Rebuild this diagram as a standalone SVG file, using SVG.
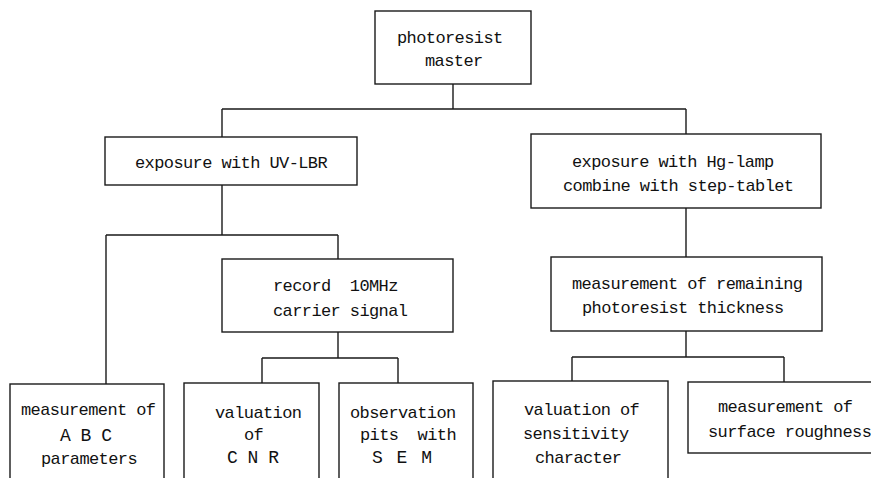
<svg xmlns="http://www.w3.org/2000/svg" width="871" height="478" viewBox="0 0 871 478">
<style>
.box{fill:#fff;stroke:#1a1a1a;stroke-width:1.4}
.ln{fill:none;stroke:#1a1a1a;stroke-width:1.4}
text{font-family:"Liberation Mono","DejaVu Sans Mono",monospace;font-size:17px;letter-spacing:-0.6px;fill:#111}
text.cap{font-size:18px;letter-spacing:-0.5px}
</style>
<rect width="871" height="478" fill="#fff"/>
<g id="connectors">
<path class="ln" d="M453 84V109M222 109H686M222 109V137M686 109V134M222 185V235M106 235H338M106 235V384M338 235V259M338 332V358M262 358H398M262 358V383M398 358V383M686 208V257M686 331V357M572 357H784M572 357V381M784 357V382"/>
</g>
<g id="photoresist-master">
<rect class="box" x="375" y="11" width="156" height="73"/>
<text x="397" y="43">photoresist</text>
<text x="425" y="66">master</text>
</g>
<g id="uv-lbr">
<rect class="box" x="105" y="137" width="252" height="48"/>
<text x="135" y="168">exposure with UV-LBR</text>
</g>
<g id="hg-lamp">
<rect class="box" x="531" y="134" width="290" height="74"/>
<text x="572" y="167">exposure with Hg-lamp</text>
<text x="563" y="191">combine with step-tablet</text>
</g>
<g id="record">
<rect class="box" x="222" y="259" width="231" height="73"/>
<text x="273" y="291" xml:space="preserve">record  10MHz</text>
<text x="273" y="316">carrier signal</text>
</g>
<g id="remaining">
<rect class="box" x="551" y="257" width="271" height="74"/>
<text x="572" y="289">measurement of remaining</text>
<text x="582" y="313">photoresist thickness</text>
</g>
<g id="abc">
<rect class="box" x="10" y="384" width="154" height="110"/>
<text x="21" y="415">measurement of</text>
<text class="cap" x="60" y="441">A B C</text>
<text x="41" y="464">parameters</text>
</g>
<g id="cnr">
<rect class="box" x="184" y="383" width="135" height="110"/>
<text x="215" y="418">valuation</text>
<text x="244" y="440">of</text>
<text class="cap" x="227" y="463">C N R</text>
</g>
<g id="sem">
<rect class="box" x="339" y="383" width="134" height="110"/>
<text x="350" y="418">observation</text>
<text x="360" y="440" xml:space="preserve">pits  with</text>
<text class="cap" x="372" y="463" style="letter-spacing:1.5px">S E M</text>
</g>
<g id="sensitivity">
<rect class="box" x="493" y="381" width="175" height="112"/>
<text x="524" y="415">valuation of</text>
<text x="523" y="439">sensitivity</text>
<text x="535" y="463">character</text>
</g>
<g id="roughness">
<rect class="box" x="688" y="382" width="200" height="71"/>
<text x="718" y="412">measurement of</text>
<text x="708" y="437">surface roughness</text>
</g>
</svg>
